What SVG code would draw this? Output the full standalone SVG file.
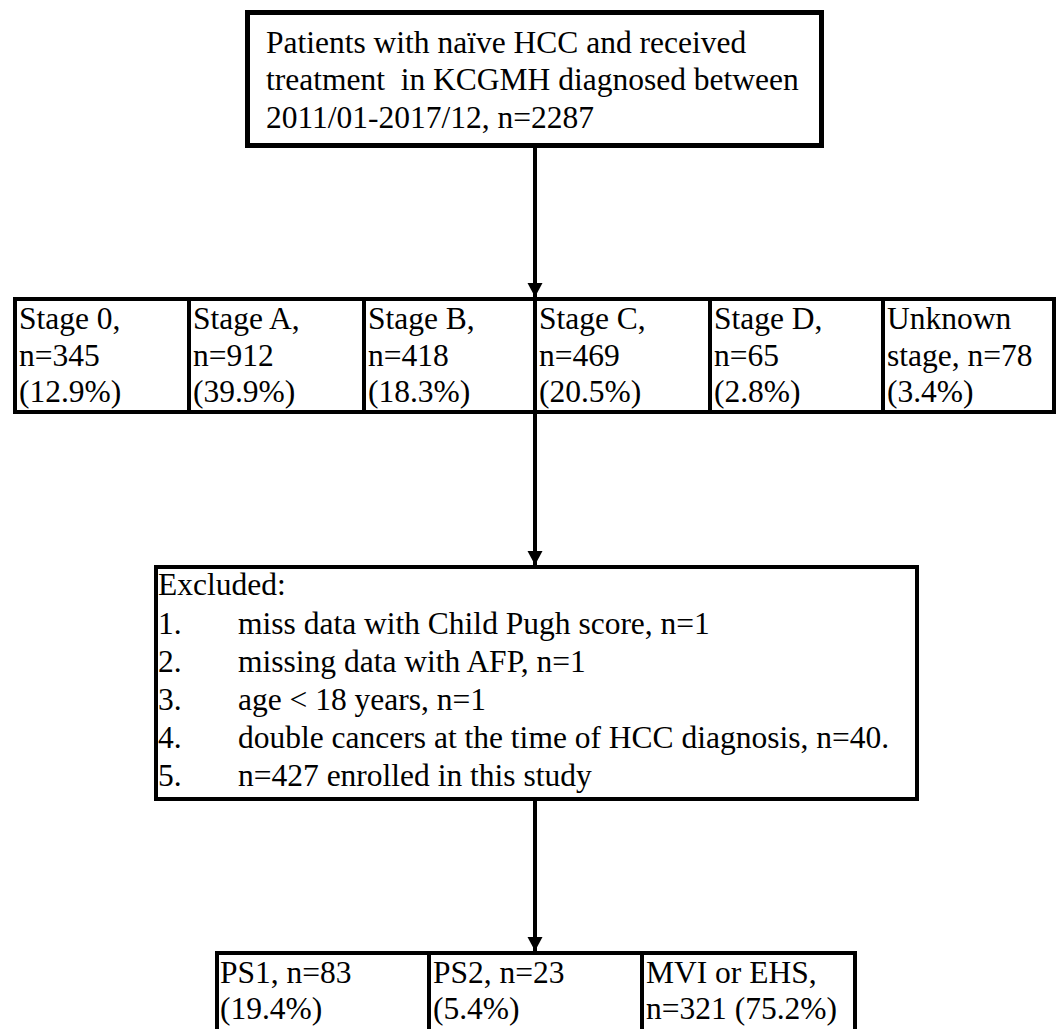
<svg xmlns="http://www.w3.org/2000/svg" width="1060" height="1029" viewBox="0 0 1060 1029">
  <style>
    .box { fill: #ffffff; stroke: #000000; stroke-width: 4; }
    .div { stroke: #000000; stroke-width: 4; }
    .t { font-family: "Liberation Serif", "Times New Roman", serif; font-size: 31.5px; fill: #000000; white-space: pre; }
    .conn { stroke: #000000; stroke-width: 4; fill: none; }
  </style>
  <defs>
    <marker id="arrow" markerUnits="userSpaceOnUse" markerWidth="16" markerHeight="16" refX="14" refY="7.5" orient="auto">
      <path d="M0,0 L14,7.5 L0,15 Z" fill="#000000"/>
    </marker>
  </defs>
  <rect width="1060" height="1029" fill="#ffffff"/>

  <g id="connectors">
    <line class="conn" x1="535" y1="147" x2="535" y2="297" marker-end="url(#arrow)"/>
    <line class="conn" x1="535" y1="414" x2="535" y2="565" marker-end="url(#arrow)"/>
    <line class="conn" x1="535" y1="800" x2="535" y2="951" marker-end="url(#arrow)"/>
  </g>

  <g id="node-source">
    <rect class="box" x="247.5" y="12.5" width="574" height="133" style="stroke-width:5"/>
    <text class="t" x="266" y="53">Patients with naïve HCC and received</text>
    <text class="t" x="266" y="90">treatment  in KCGMH diagnosed between</text>
    <text class="t" x="266" y="128">2011/01-2017/12, n=2287</text>
  </g>

  <g id="stage-row">
    <rect class="box" x="15" y="299" width="1039" height="113"/>
    <line class="div" x1="189" y1="299" x2="189" y2="412"/>
    <line class="div" x1="364" y1="299" x2="364" y2="412"/>
    <line class="div" x1="535" y1="299" x2="535" y2="412"/>
    <line class="div" x1="710" y1="299" x2="710" y2="412"/>
    <line class="div" x1="883" y1="299" x2="883" y2="412"/>
  </g>
  <g id="node-stage-0">
    <text class="t" x="19" y="329">Stage 0,</text>
    <text class="t" x="19" y="366">n=345</text>
    <text class="t" x="19" y="402">(12.9%)</text>
  </g>
  <g id="node-stage-a">
    <text class="t" x="193" y="329">Stage A,</text>
    <text class="t" x="193" y="366">n=912</text>
    <text class="t" x="193" y="402">(39.9%)</text>
  </g>
  <g id="node-stage-b">
    <text class="t" x="368" y="329">Stage B,</text>
    <text class="t" x="368" y="366">n=418</text>
    <text class="t" x="368" y="402">(18.3%)</text>
  </g>
  <g id="node-stage-c">
    <text class="t" x="539" y="329">Stage C,</text>
    <text class="t" x="539" y="366">n=469</text>
    <text class="t" x="539" y="402">(20.5%)</text>
  </g>
  <g id="node-stage-d">
    <text class="t" x="714" y="329">Stage D,</text>
    <text class="t" x="714" y="366">n=65</text>
    <text class="t" x="714" y="402">(2.8%)</text>
  </g>
  <g id="node-stage-unknown">
    <text class="t" x="887" y="329">Unknown</text>
    <text class="t" x="887" y="366">stage, n=78</text>
    <text class="t" x="887" y="402">(3.4%)</text>
  </g>

  <g id="node-excluded">
    <rect class="box" x="156" y="567" width="761" height="232"/>
    <text class="t" x="158" y="595">Excluded:</text>
    <text class="t" x="158" y="634">1.</text>
    <text class="t" x="238" y="634">miss data with Child Pugh score, n=1</text>
    <text class="t" x="158" y="672">2.</text>
    <text class="t" x="238" y="672">missing data with AFP, n=1</text>
    <text class="t" x="158" y="710">3.</text>
    <text class="t" x="238" y="710">age &lt; 18 years, n=1</text>
    <text class="t" x="158" y="748">4.</text>
    <text class="t" x="238" y="748">double cancers at the time of HCC diagnosis, n=40.</text>
    <text class="t" x="158" y="786">5.</text>
    <text class="t" x="238" y="786">n=427 enrolled in this study</text>
  </g>

  <g id="bottom-row">
    <rect class="box" x="217" y="953" width="638" height="100"/>
    <line class="div" x1="429" y1="953" x2="429" y2="1053"/>
    <line class="div" x1="642" y1="953" x2="642" y2="1053"/>
  </g>
  <g id="node-ps1">
    <text class="t" x="220" y="983">PS1, n=83</text>
    <text class="t" x="220" y="1019">(19.4%)</text>
  </g>
  <g id="node-ps2">
    <text class="t" x="433" y="983">PS2, n=23</text>
    <text class="t" x="433" y="1019">(5.4%)</text>
  </g>
  <g id="node-mvi">
    <text class="t" x="646" y="983">MVI or EHS,</text>
    <text class="t" x="646" y="1019">n=321 (75.2%)</text>
  </g>
</svg>
